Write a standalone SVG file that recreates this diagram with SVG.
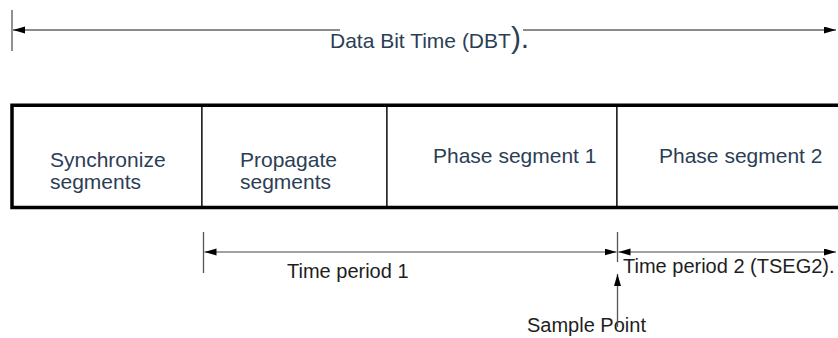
<svg xmlns="http://www.w3.org/2000/svg" width="838" height="338" viewBox="0 0 838 338">
  <defs>
    <marker id="arr" markerUnits="userSpaceOnUse" markerWidth="13" markerHeight="8" refX="12" refY="3.5" orient="auto-start-reverse">
      <path d="M0,0 L12,3.5 L0,7 z" fill="#000"/>
    </marker>
    <style>
      .cell { fill: #fff; stroke: #000; stroke-width: 1.2; }
      .frame { fill: none; stroke: #000; stroke-width: 3.5; }
      .lbl { font-family: "Liberation Sans", Arial, sans-serif; font-size: 21px; fill: #2b3e55; }
      .dim { font-family: "Liberation Sans", Arial, sans-serif; font-size: 20px; fill: #1e1e1e; }
      .tick { stroke: #555; stroke-width: 1.3; fill: none; }
      .topline { stroke: #666; stroke-width: 1.6; fill: none; }
      .line { stroke: #444; stroke-width: 1.2; fill: none; }
    </style>
  </defs>
  <rect width="838" height="338" fill="#fff"/>

  <g id="dbt-label">
    <text class="lbl" x="330" y="48">Data Bit Time (DBT<tspan font-size="30">).</tspan></text>
  </g>

  <g id="sync-segment">
    <rect class="cell" x="12" y="105" width="190" height="102"/>
    <text class="lbl" x="50" y="167">Synchronize</text>
    <text class="lbl" x="50" y="189">segments</text>
  </g>
  <g id="propagate-segment">
    <rect class="cell" x="202" y="105" width="185" height="102"/>
    <text class="lbl" x="240" y="167">Propagate</text>
    <text class="lbl" x="240" y="189">segments</text>
  </g>
  <g id="phase-segment-1">
    <rect class="cell" x="387" y="105" width="230" height="102"/>
    <text class="lbl" x="433" y="163">Phase segment 1</text>
  </g>
  <g id="phase-segment-2">
    <rect class="cell" x="617" y="105" width="230" height="102"/>
    <text class="lbl" x="659" y="163">Phase segment 2</text>
  </g>
  <path class="frame" d="M840,105.3 H12 V207.5 H840"/>

  <g id="time-period-1-label">
    <text class="dim" x="287" y="278">Time period 1</text>
  </g>
  <g id="time-period-2-label">
    <text class="dim" x="623" y="273">Time period 2 (TSEG2).</text>
  </g>
  <g id="sample-point-label">
    <text class="dim" x="527" y="332">Sample Point</text>
  </g>

  <g id="connectors">
    <line class="tick" x1="12" y1="10" x2="12" y2="51"/>
    <line class="topline" x1="13" y1="30" x2="340" y2="30" marker-start="url(#arr)"/>
    <line class="topline" x1="523" y1="30" x2="836" y2="30" marker-end="url(#arr)"/>

    <line class="tick" x1="203.5" y1="232" x2="203.5" y2="273"/>
    <line class="tick" x1="617.5" y1="232" x2="617.5" y2="262"/>
    <line class="line" x1="204.5" y1="252" x2="616.5" y2="252" marker-start="url(#arr)" marker-end="url(#arr)"/>
    <line class="line" x1="618.5" y1="252" x2="836" y2="252" marker-start="url(#arr)" marker-end="url(#arr)"/>

    <line class="tick" x1="617.5" y1="327" x2="617.5" y2="274" marker-end="url(#arr)"/>
  </g>
</svg>
